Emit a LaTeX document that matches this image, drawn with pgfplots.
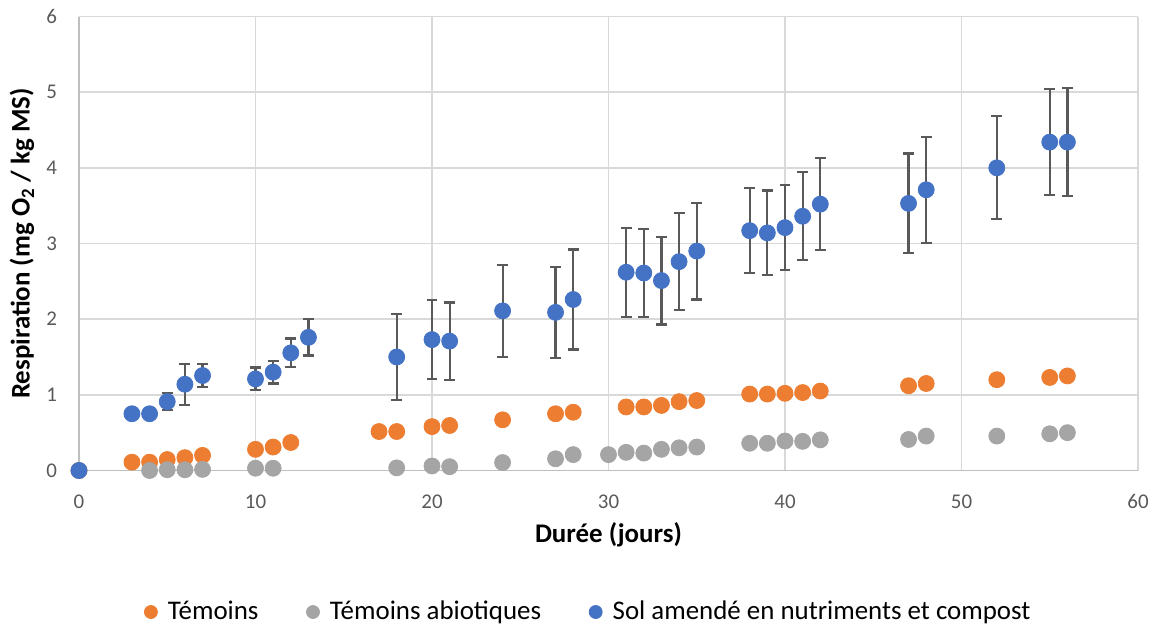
\documentclass[border=0pt]{standalone}
\usepackage{fontspec}
\setmainfont{Carlito}
\usepackage{pgfplots}
\pgfplotsset{compat=1.18}
\usepackage{pgfplotstable}
\definecolor{cOrange}{HTML}{ED7D31}
\definecolor{cGray}{HTML}{A5A5A5}
\definecolor{cBlue}{HTML}{4472C4}
\definecolor{cTick}{HTML}{595959}
\definecolor{cGrid}{HTML}{D9D9D9}
\definecolor{cAxis}{HTML}{BFBFBF}

\pgfplotstableread{
x y
0 0
3 0.11
4 0.11
5 0.145
6 0.17
7 0.20
10 0.28
11 0.31
12 0.37
17 0.515
18 0.515
20 0.58
21 0.595
24 0.67
27 0.75
28 0.77
31 0.84
32 0.84
33 0.86
34 0.91
35 0.925
38 1.01
39 1.01
40 1.02
41 1.03
42 1.05
47 1.12
48 1.15
52 1.20
55 1.23
56 1.25
}\temoins

\pgfplotstableread{
x y
0 0
4 0.0
5 0.01
6 0.01
7 0.015
10 0.03
11 0.03
18 0.035
20 0.06
21 0.05
24 0.105
27 0.155
28 0.21
30 0.21
31 0.24
32 0.23
33 0.28
34 0.30
35 0.31
38 0.36
39 0.36
40 0.39
41 0.385
42 0.405
47 0.41
48 0.455
52 0.455
55 0.485
56 0.50
}\abiotiques

\pgfplotstableread{
x y e
0 0 0
3 0.75 0
4 0.75 0
5 0.91 0.11
6 1.14 0.27
7 1.255 0.15
10 1.21 0.15
11 1.30 0.15
12 1.555 0.19
13 1.76 0.24
18 1.50 0.57
20 1.73 0.52
21 1.71 0.51
24 2.11 0.61
27 2.09 0.60
28 2.26 0.66
31 2.62 0.59
32 2.61 0.58
33 2.51 0.58
34 2.76 0.64
35 2.90 0.64
38 3.17 0.56
39 3.14 0.56
40 3.21 0.56
41 3.36 0.58
42 3.52 0.61
47 3.53 0.66
48 3.71 0.70
52 4.00 0.68
55 4.34 0.70
56 4.34 0.71
}\amende

\begin{document}
\begin{tikzpicture}
\begin{axis}[
  at={(0,0)}, anchor=south west,
  scale only axis,
  width=529.5bp, height=227bp,
  xmin=0, xmax=60, ymin=0, ymax=6,
  xtick={0,10,...,60}, ytick={0,1,...,6},
  axis x line=bottom, axis y line=left,
  axis line style={draw=cAxis, line width=0.9bp, -},
  major tick length=0pt,
  grid=major,
  major grid style={draw=cGrid, line width=0.75bp},
  /pgf/number format/assume math mode=true,
  tick label style={font=\fontsize{10.5}{12}\selectfont, text=cTick},
  xticklabel style={yshift=-8.5bp},
  yticklabel style={xshift=-7.5bp},
  xlabel={Durée (jours)},
  ylabel={Respiration (mg O\textsubscript{2} / kg MS)},
  label style={font=\fontsize{13.5}{16}\selectfont\bfseries},
  xlabel style={at={(axis description cs:0.5,-0.142)}, anchor=center},
  ylabel style={at={(axis description cs:-0.0538,0.5)}, anchor=center, rotate=0},
  legend columns=3,
  legend style={at={(axis description cs:0.482,-0.3117)}, anchor=center, draw=none,
    font=\fontsize{13.5}{16}\selectfont,
    /tikz/every even column/.append style={column sep=22bp}},
  legend image code/.code={\draw[#1, mark size=3.25bp] plot coordinates {(0bp,0bp)};
    \path[draw=none, fill=none] (-3.25bp,0bp) -- (6.5bp,0bp);},
]
\addplot[only marks, mark=*, mark size=4bp, color=cOrange] table[x=x,y=y]{\temoins};
\addlegendentry{Témoins}
\addplot[only marks, mark=*, mark size=4bp, color=cGray] table[x=x,y=y]{\abiotiques};
\addlegendentry{Témoins abiotiques}
\addplot[forget plot, only marks, mark=none,
  error bars/.cd, y dir=both, y explicit,
  error bar style={draw=cTick, line width=1.1bp},
  error mark options={draw=cTick, line width=1.1bp, mark size=2.7bp, rotate=90}]
  table[x=x,y=y,y error=e]{\amende};
\addplot[only marks, mark=*, mark size=4bp, color=cBlue] table[x=x,y=y]{\amende};
\addlegendentry{Sol amendé en nutriments et compost}
\end{axis}
\pgfresetboundingbox
\useasboundingbox (-39.5bp,-77.75bp) rectangle (540bp,235.25bp);
\end{tikzpicture}
\end{document}
